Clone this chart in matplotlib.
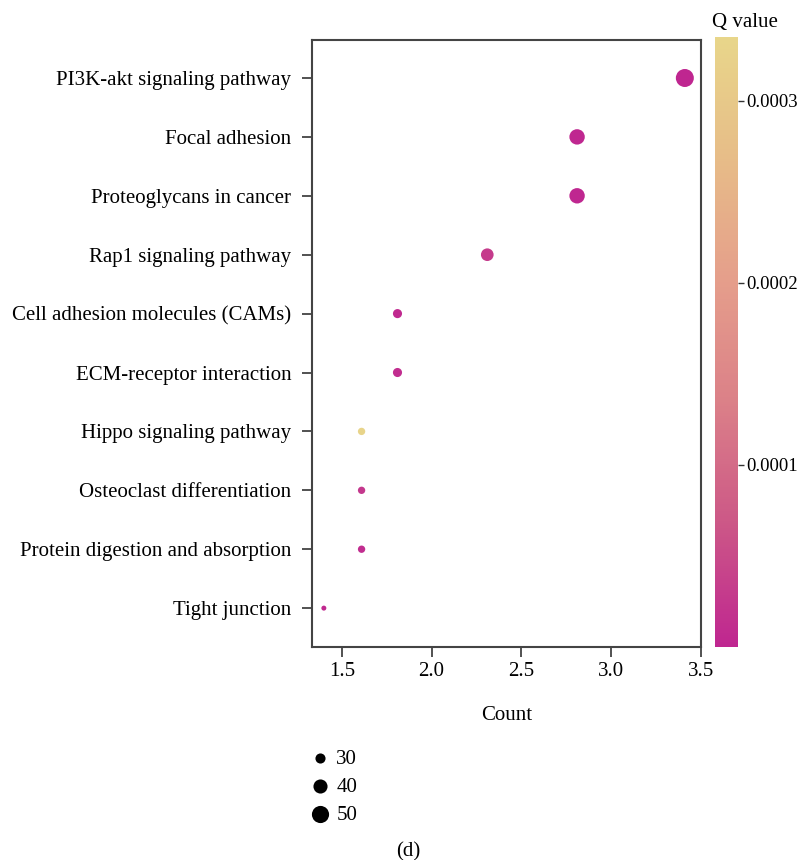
import matplotlib
matplotlib.use("Agg")
import matplotlib.pyplot as plt
import numpy as np
from matplotlib.colors import LinearSegmentedColormap, Normalize

plt.rcParams['font.family'] = ['Liberation Serif', 'DejaVu Serif']

pathways = ["PI3K-akt signaling pathway", "Focal adhesion", "Proteoglycans in cancer",
            "Rap1 signaling pathway", "Cell adhesion molecules (CAMs)", "ECM-receptor interaction",
            "Hippo signaling pathway", "Osteoclast differentiation",
            "Protein digestion and absorption", "Tight junction"]
ratio = [3.41, 2.81, 2.81, 2.31, 1.81, 1.81, 1.61, 1.61, 1.61, 1.40]
gene_count = [53, 44, 44, 36, 28, 28, 25, 25, 25, 22]
qvalue = [1e-6, 2e-6, 2e-6, 3e-5, 5e-6, 1e-5, 3.3e-4, 2.5e-5, 1e-5, 5e-6]
size_legend = [30, 40, 50]
cbar_ticks = [0.0001, 0.0002, 0.0003]

FS = 15

cmap = LinearSegmentedColormap.from_list(
    "qv", ["#BF2690", "#CC5787", "#DB8088", "#E59E8B", "#E7BC88", "#E8D68A"])
norm = Normalize(vmin=0.0, vmax=0.000335)

def area(c):
    # marker area in points^2, linear in count
    px = 25 + (c - 22) * 9.65
    return px * 0.72 ** 2

fig = plt.figure(figsize=(7.99, 8.6), dpi=100)
ax = fig.add_axes([312 / 799, 1 - 647 / 860, (701 - 312) / 799, (647 - 40) / 860])
cax = fig.add_axes([715 / 799, 1 - 647 / 860, (738 - 715) / 799, (647 - 37) / 860])

y = np.arange(len(pathways))[::-1]
sc = ax.scatter(ratio, y, s=[area(c) for c in gene_count], c=qvalue, cmap=cmap, norm=norm,
                linewidths=0, zorder=3)
ax.set_yticks(y)
ax.set_yticklabels(pathways, fontsize=FS)
ax.set_ylim(-0.66, len(pathways) - 1 + 0.645)
ax.set_xlim(1.334, 3.5)
ax.set_xticks([1.5, 2.0, 2.5, 3.0, 3.5])
ax.set_xticklabels(["1.5", "2.0", "2.5", "3.0", "3.5"], fontsize=FS)
ax.set_xlabel("Count", fontsize=FS, labelpad=18)
for sp in ax.spines.values():
    sp.set_color("#444444")
    sp.set_linewidth(1.5)
ax.tick_params(axis='both', length=7, width=1.2, color="#333333")
ax.tick_params(axis='x', pad=4)
ax.tick_params(axis='y', pad=8)

cb = fig.colorbar(plt.cm.ScalarMappable(norm=norm, cmap=cmap), cax=cax)
cb.outline.set_visible(False)
cb.set_ticks(cbar_ticks)
cb.set_ticklabels(["0.0001", "0.0002", "0.0003"])
cax.tick_params(labelsize=13.5, length=4, width=1, color="#333333", pad=2)
fig.text(745 / 799, 1 - 22 / 860, "Q value", fontsize=FS, ha='center', va='center')

handles = [ax.scatter([], [], s=area(c), color='black', linewidths=0) for c in size_legend]
leg = fig.legend(handles, [str(c) for c in size_legend], loc='upper left',
                 bbox_to_anchor=(301 / 799, 1 - 741 / 860), frameon=False, fontsize=FS,
                 handlelength=1.0, handletextpad=0.3, labelspacing=0.4, borderaxespad=0)

fig.text(408 / 799, 1 - 852 / 860, "(d)", fontsize=FS, ha='center', va='center')

fig.savefig("out.png", dpi=100)
